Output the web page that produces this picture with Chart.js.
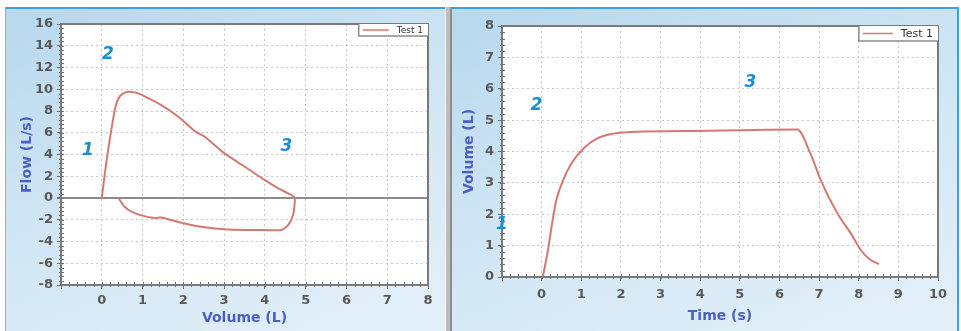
<!DOCTYPE html>
<html>
<head>
<meta charset="utf-8">
<script src="https://cdn.jsdelivr.net/npm/chart.js@4.4.1/dist/chart.umd.min.js"></script>
<style>
  body { margin: 0; width: 961px; height: 331px; overflow: hidden; background: #fff; position: relative; }
  .panel { position: absolute; box-sizing: border-box; border-top: 2px solid #39a3de;
           background: linear-gradient(160deg, #b7d8ee 0%, #cfe5f4 45%, #e4f0f9 100%); }
  .wrap { position: absolute; }
  #divider { position: absolute; left: 445px; top: 7px; width: 7px; height: 324px; box-sizing: border-box;
             background: #bdbdbd; border-left: 1px solid #f4f4f4; border-right: 2px solid #8c8c8c; }
</style>
</head>
<body>
<div class="panel" style="left:5px;top:7px;width:440px;height:324px;border-left:1px solid #7fb6d8;"></div>
<div id="divider"></div>
<div class="panel" style="left:452px;top:7px;width:507px;height:324px;border-right:2px solid #39a3de;"></div>
<div class="wrap" style="left:6px;top:8px;"><canvas id="flowChart" width="438" height="323"></canvas></div>
<div class="wrap" style="left:452px;top:8px;"><canvas id="timeChart" width="505" height="323"></canvas></div>
<script>
// flow-volume loop (expiration then inspiration)
const loopVolume = [0, 0.07, 0.15, 0.24, 0.33, 0.44, 0.6, 0.85, 1.05, 1.46, 1.87, 2.3, 2.52, 3.01, 3.5, 3.99, 4.32, 4.57, 4.73,
  4.73, 4.69, 4.57, 4.4, 4.0, 3.1, 2.44, 1.87, 1.46, 1.3, 0.97, 0.73, 0.56, 0.44, 0.42];
const loopFlow = [0, 2.1, 4.3, 6.4, 8.3, 9.35, 9.75, 9.67, 9.35, 8.55, 7.5, 6.1, 5.66, 4.1, 2.9, 1.66, 0.9, 0.43, 0.06,
  -0.5, -1.57, -2.5, -2.95, -2.95, -2.9, -2.65, -2.2, -1.8, -1.85, -1.6, -1.26, -0.8, -0.18, 0];

// volume-time curve
const timeS = [0.03, 0.16, 0.25, 0.37, 0.54, 0.75, 1.05, 1.39, 1.81, 2.23, 3.5, 5.0, 6.45, 6.78, 7.04, 7.46, 7.8, 8.05, 8.3, 8.51];
const volumeL = [0, 0.86, 1.6, 2.45, 3.08, 3.62, 4.09, 4.41, 4.57, 4.62, 4.65, 4.68, 4.7, 3.94, 3.09, 2.03, 1.39, 0.86, 0.54, 0.41];

const seriesLabel = 'Test 1';

// numbered markers on each chart (data coords)
const leftNotes = ['1', '2', '3'];
const leftNoteX = [-0.34, 0.15, 4.53];
const leftNoteY = [4.4, 13.2, 4.7];
const rightNotes = ['1', '2', '3'];
const rightNoteX = [-1.0, -0.13, 5.27];
const rightNoteY = [1.66, 5.45, 6.2];

const lineColor = '#d27a70';
const titleColor = '#4a5fc6';
const tickColor = '#585858';
const font = '"DejaVu Sans", sans-serif';

function toPoints(xs, ys) {
  return xs.map((x, i) => ({ x: x, y: ys[i] }));
}

// white plot area, frame, minor ticks
const plotFrame = {
  id: 'plotFrame',
  beforeDraw(chart) {
    const a = chart.chartArea, c = chart.ctx;
    c.save();
    c.fillStyle = '#fff';
    c.fillRect(a.left, a.top, a.right - a.left, a.bottom - a.top);
    c.restore();
  },
  beforeDatasetsDraw(chart, args, opts) {
    const a = chart.chartArea, c = chart.ctx;
    const sx = chart.scales.x, sy = chart.scales.y;
    c.save();
    c.strokeStyle = '#6e6e6e';
    c.lineWidth = 1;
    for (let v = sx.min; v <= sx.max + 1e-6; v += opts.minorX) {
      const p = Math.round(sx.getPixelForValue(v)) + 0.5;
      c.beginPath(); c.moveTo(p, a.bottom - 3); c.lineTo(p, a.bottom + 2); c.stroke();
    }
    for (let v = sy.min; v <= sy.max + 1e-6; v += opts.minorY) {
      const p = Math.round(sy.getPixelForValue(v)) + 0.5;
      c.beginPath(); c.moveTo(a.left - 2, p); c.lineTo(a.left + 3, p); c.stroke();
    }
    c.strokeStyle = '#7a7a7a';
    c.lineWidth = 2;
    c.strokeRect(a.left, a.top, a.right - a.left, a.bottom - a.top);
    c.restore();
  }
};

// small legend box inside top-right corner + numbered markers
const boxLegend = {
  id: 'boxLegend',
  afterDatasetsDraw(chart, args, opts) {
    const a = chart.chartArea, c = chart.ctx;
    const ds = chart.data.datasets[0];
    c.save();
    c.font = opts.size + 'px ' + font;
    const tw = c.measureText(ds.label).width;
    const w = 4 + opts.line + 8 + tw + 5;
    const x0 = a.right - w, y0 = a.top;
    c.fillStyle = '#fff';
    c.fillRect(x0, y0, w, opts.h);
    c.strokeStyle = '#8a8a8a';
    c.lineWidth = 1.5;
    c.beginPath(); c.moveTo(x0, y0); c.lineTo(x0, y0 + opts.h); c.lineTo(a.right, y0 + opts.h); c.stroke();
    c.strokeStyle = ds.borderColor;
    c.lineWidth = 1.5;
    c.beginPath(); c.moveTo(x0 + 4, y0 + opts.h / 2); c.lineTo(x0 + 4 + opts.line, y0 + opts.h / 2); c.stroke();
    c.fillStyle = '#333';
    c.textBaseline = 'middle';
    c.fillText(ds.label, x0 + 4 + opts.line + 8, y0 + opts.h / 2 + 0.5);

    const sx = chart.scales.x, sy = chart.scales.y;
    c.font = 'italic bold 17px ' + font;
    c.fillStyle = '#1a8fd0';
    c.textAlign = 'center';
    opts.notes.forEach((t, i) => {
      c.fillText(t, sx.getPixelForValue(opts.noteX[i]), sy.getPixelForValue(opts.noteY[i]));
    });
    c.restore();
  }
};

function axis(min, max, step, title, isX, fit, titlePad, tickPad) {
  return {
    type: 'linear',
    min: min,
    max: max,
    ticks: {
      stepSize: step, color: tickColor, padding: tickPad, font: { family: font, size: 13, weight: 'bold' },
      callback: v => (isX && v < 0) ? '' : v
    },
    grid: {
      color: ctx => (ctx.tick && ctx.tick.value === 0 && !isX && min < 0) ? '#8c8c8c' : '#c6c6c6',
      lineWidth: ctx => (ctx.tick && ctx.tick.value === 0 && !isX && min < 0) ? 2 : 1,
      tickColor: '#6e6e6e',
      tickLength: 4
    },
    border: {
      display: false,
      dash: ctx => (ctx.tick && ctx.tick.value === 0 && !isX && min < 0) ? [] : [2, 3]
    },
    title: { display: true, text: title, color: titleColor, padding: titlePad, font: { family: font, size: 14, weight: 'bold' } },
    afterFit: s => { if (isX) s.height = fit; else s.width = fit; }
  };
}

function makeChart(el, xs, ys, cfg) {
  return new Chart(document.getElementById(el), {
    type: 'scatter',
    data: {
      datasets: [{
        label: seriesLabel,
        data: toPoints(xs, ys),
        showLine: true,
        borderColor: lineColor,
        borderWidth: 2,
        pointRadius: 0,
        tension: cfg.tension,
        cubicInterpolationMode: cfg.mono ? 'monotone' : 'default'
      }]
    },
    options: {
      responsive: false,
      animation: false,
      devicePixelRatio: 1,
      layout: { padding: cfg.padding },
      plugins: {
        legend: { display: false },
        tooltip: { enabled: false },
        plotFrame: { minorX: cfg.minorX, minorY: cfg.minorY },
        boxLegend: { size: cfg.legendSize, line: cfg.legendLine, h: cfg.legendH, notes: cfg.notes, noteX: cfg.noteX, noteY: cfg.noteY }
      },
      scales: { x: cfg.x, y: cfg.y }
    },
    plugins: [plotFrame, boxLegend]
  });
}

makeChart('flowChart', loopVolume, loopFlow, {
  tension: 0.2, mono: false,
  padding: { top: 16, right: 16, left: 0, bottom: 0 },
  minorX: 0.2, minorY: 0.4,
  legendSize: 9, legendLine: 26, legendH: 12,
  notes: leftNotes, noteX: leftNoteX, noteY: leftNoteY,
  x: axis(-1, 8, 1, 'Volume (L)', true, 46, { top: 0, bottom: 4 }, 4),
  y: axis(-8, 16, 2, 'Flow (L/s)', false, 55, { top: 13, bottom: 0 }, 4)
});

makeChart('timeChart', timeS, volumeL, {
  tension: 0.4, mono: true,
  padding: { top: 18, right: 19, left: 0, bottom: 0 },
  minorX: 0.2, minorY: 0.2,
  legendSize: 11, legendLine: 30, legendH: 15,
  notes: rightNotes, noteX: rightNoteX, noteY: rightNoteY,
  x: axis(-1, 10, 1, 'Time (s)', true, 54, { top: 0, bottom: 6 }, 6),
  y: axis(0, 8, 1, 'Volume (L)', false, 50, { top: 9, bottom: 0 }, 4)
});
</script>
</body>
</html>
